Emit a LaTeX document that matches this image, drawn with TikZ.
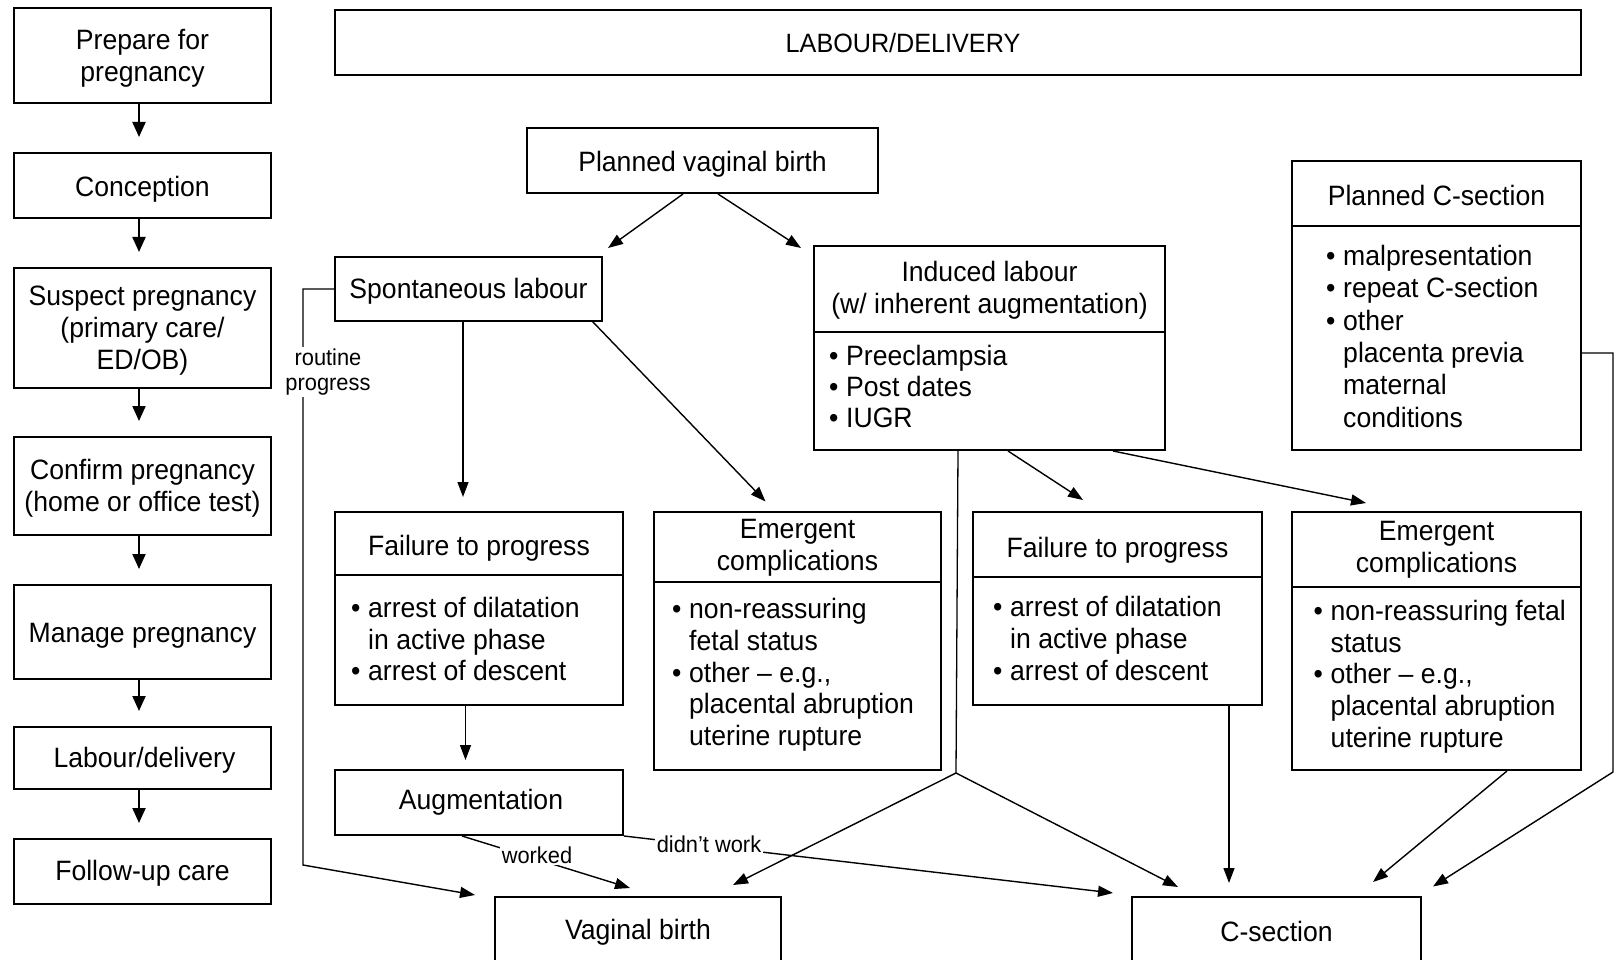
\documentclass[tikz,border=0pt]{standalone}
\usepackage{fontspec}
\setmainfont{Liberation Sans}[FakeStretch=0.95]
\usetikzlibrary{arrows.meta}
\newcommand\mainsz{\fontsize{28}{32}\selectfont}
\newcommand\smallsz{\fontsize{23}{25}\selectfont}
\newcommand\bul{\llap{\textbullet\hspace{7.7pt}}}
\newcommand\lstlines[2]{\vtop{\baselineskip=#1pt\lineskiplimit=-100pt\lineskip=0pt #2}}
\begin{document}
\begin{tikzpicture}[x=1pt,y=-1pt,
  box/.style={draw, line width=2pt, inner sep=0pt},
  btxt/.style={inner sep=0pt, font=\mainsz, align=center},
  txt/.style={inner sep=0pt, font=\mainsz, anchor=mid},
  lstnode/.style={inner sep=0pt, font=\mainsz, anchor=mid west},
  lbl/.style={fill=white, inner sep=2pt, font=\smallsz, align=center},
  larrow/.style={line width=2pt, -{Triangle[length=15pt,width=13pt]}},
  conn/.style={line width=1.4pt, -{Triangle[length=15pt,width=11pt]}},
  plainline/.style={line width=1.3pt}]
\fill[white] (0,0) rectangle (1618,960);
\useasboundingbox (0,0) rectangle (1618,960);

% left column
\node[box, minimum width=257pt, minimum height=95pt] (prep) at (142.5,55.5) {};
\node[btxt] (prept) at (142.5,58.5) {Prepare for\\pregnancy};
\node[box, minimum width=257pt, minimum height=65pt] (conc) at (142.5,185.5) {};
\node[btxt] (conct) at (142.5,189.5) {Conception};
\node[box, minimum width=257pt, minimum height=120pt] (susp) at (142.5,328) {};
\node[btxt] (suspt) at (142.5,330.5) {Suspect pregnancy\\(primary care/\\ED/OB)};
\node[box, minimum width=257pt, minimum height=98pt] (conf) at (142.5,486) {};
\node[btxt] (conft) at (142.5,488.5) {Confirm pregnancy\\(home or office test)};
\node[box, minimum width=257pt, minimum height=94pt] (mana) at (142.5,632) {};
\node[btxt] (manat) at (142.5,636) {Manage pregnancy};
\node[box, minimum width=257pt, minimum height=62pt] (labd) at (142.5,758) {};
\node[btxt] (labdt) at (144.5,760) {Labour/delivery};
\node[box, minimum width=257pt, minimum height=65pt] (foll) at (142.5,871.5) {};
\node[btxt] (follt) at (142.5,873.5) {Follow-up care};
\foreach \a/\b in {prep/conc, conc/susp, susp/conf, conf/mana, mana/labd, labd/foll}
  \draw[larrow] ([xshift=-3.5pt]\a.south) -- ([xshift=-3.5pt,yshift=15pt]\b.north);

% title
\node[box, minimum width=1246pt, minimum height=65pt] (ldb) at (958,43) {};
\node[txt, font=\fontsize{26.5}{32}\selectfont] (ldt) at (903,50) {LABOUR/DELIVERY};

% upper boxes
\node[box, minimum width=351pt, minimum height=65pt] (pvb) at (702.5,160.5) {};
\node[btxt] (pvbt) at (702.5,164.5) {Planned vaginal birth};
\node[box, minimum width=267pt, minimum height=63pt] (spon) at (468.5,289) {};
\node[btxt] (spont) at (468.5,291) {Spontaneous labour};
\node[box, minimum width=351pt, minimum height=86pt] (indh) at (989.5,289) {};
\node[btxt] (indht) at (989.5,290) {Induced labour\\(w/ inherent augmentation)};
\node[box, minimum width=351pt, minimum height=118pt] (indb) at (989.5,391) {};
\node[lstnode] (indl) at (846,363) {\lstlines{31}{\hbox{\bul Preeclampsia}\hbox{\bul Post dates}\hbox{\bul IUGR}}};
\node[box, minimum width=289pt, minimum height=65pt] (pcsh) at (1436.5,193.3) {};
\node[btxt] (pcsht) at (1436.5,195.5) {Planned C-section};
\node[box, minimum width=289pt, minimum height=224pt] (pcsb) at (1436.5,338) {};
\node[lstnode] (pcsl) at (1343,263) {\lstlines{32.3}{\hbox{\bul malpresentation}\hbox{\bul repeat C-section}\hbox{\bul other}\hbox{placenta previa}\hbox{maternal}\hbox{conditions}}};

% middle row
\node[box, minimum width=288pt, minimum height=63pt] (flh) at (479,543.5) {};
\node[btxt] (flht) at (479,548.5) {Failure to progress};
\node[box, minimum width=288pt, minimum height=130pt] (flb) at (479,640) {};
\node[lstnode] (fll) at (368,615) {\lstlines{31.4}{\hbox{\bul arrest of dilatation}\hbox{in active phase}\hbox{\bul arrest of descent}}};
\node[box, minimum width=287pt, minimum height=70pt] (elh) at (797.5,547) {};
\node[btxt] (elht) at (797.5,548) {Emergent\\complications};
\node[box, minimum width=287pt, minimum height=188pt] (elb) at (797.5,676) {};
\node[lstnode] (ell) at (689,616) {\lstlines{31.7}{\hbox{\bul non-reassuring}\hbox{fetal status}\hbox{\bul other -- e.g.,}\hbox{placental abruption}\hbox{uterine rupture}}};
\node[box, minimum width=289pt, minimum height=65pt] (frh) at (1117.5,544.5) {};
\node[btxt] (frht) at (1117.5,550.5) {Failure to progress};
\node[box, minimum width=289pt, minimum height=128pt] (frb) at (1117.5,641) {};
\node[lstnode] (frl) at (1010,613.5) {\lstlines{32}{\hbox{\bul arrest of dilatation}\hbox{in active phase}\hbox{\bul arrest of descent}}};
\node[box, minimum width=289pt, minimum height=75pt] (erh) at (1436.5,549.5) {};
\node[btxt] (erht) at (1436.5,549.5) {Emergent\\complications};
\node[box, minimum width=289pt, minimum height=183pt] (erb) at (1436.5,678.5) {};
\node[lstnode] (erl) at (1330.5,618) {\lstlines{31.6}{\hbox{\bul non-reassuring fetal}\hbox{status}\hbox{\bul other -- e.g.,}\hbox{placental abruption}\hbox{uterine rupture}}};
\node[box, minimum width=288pt, minimum height=65pt] (aug) at (479,802.5) {};
\node[btxt] (augt) at (481,802.5) {Augmentation};

% outcomes
\node[box, minimum width=286pt, minimum height=88pt] (vb) at (638,941) {};
\node[txt] (vbt) at (638,937) {Vaginal birth};
\node[box, minimum width=289pt, minimum height=88pt] (cs) at (1276.5,941) {};
\node[txt] (cst) at (1276.5,939) {C-section};

% arrow tips and bends
\coordinate (t1) at (608,248);
\coordinate (t2) at (801,248);
\coordinate (t3) at (463,497);
\coordinate (t4) at (765.5,501.5);
\coordinate (t5) at (1083,500);
\coordinate (t6) at (1366,503);
\coordinate (jn) at (956,773);
\coordinate (t7a) at (733,885);
\coordinate (t7b) at (1178,887);
\coordinate (pc1) at (1613,772);
\coordinate (t8) at (1433,886.5);
\coordinate (t9) at (1229,883);
\coordinate (t10) at (1373,882);
\coordinate (t11) at (465.5,760);
\coordinate (t12) at (630,888);
\coordinate (t13) at (1113,893);
\coordinate (rp) at (303,865);
\coordinate (t14) at (475,895);

\draw[conn] ([xshift=157pt]pvb.south west) -- (t1);
\draw[conn] ([xshift=192pt]pvb.south west) -- (t2);
\draw[conn] ([xshift=-5.5pt]spon.south) -- (t3);
\draw[conn] ([xshift=-10.5pt]spon.south east) -- (t4);
\draw[conn] ([xshift=18.5pt]indb.south) -- (t5);
\draw[conn] ([xshift=123.5pt]indb.south) -- (t6);
\draw[plainline] ([xshift=-31.5pt]indb.south) -- (jn);
\draw[conn] (jn) -- (t7a);
\draw[conn] (jn) -- (t7b);
\draw[conn] ([yshift=-15pt]pcsb.east) -| (pc1) -- (t8);
\draw[conn] ([xshift=111.5pt]frb.south) -- (t9);
\draw[conn] ([xshift=70.5pt]erb.south) -- (t10);
\draw[conn] ([xshift=-13.5pt]flb.south) -- (t11);
\draw[conn] ([xshift=-17pt]aug.south) -- (t12);
\draw[conn] (aug.south east) -- (t13);
\draw[conn] (spon.west) -| (rp) -- (t14);

% labels
\node[lbl] (lrp) at (328,372) {routine\\progress};
\node[lbl] (lwk) at (537,855) {worked};
\node[lbl] (ldw) at (709,844) {didn't work};
\end{tikzpicture}
\end{document}
